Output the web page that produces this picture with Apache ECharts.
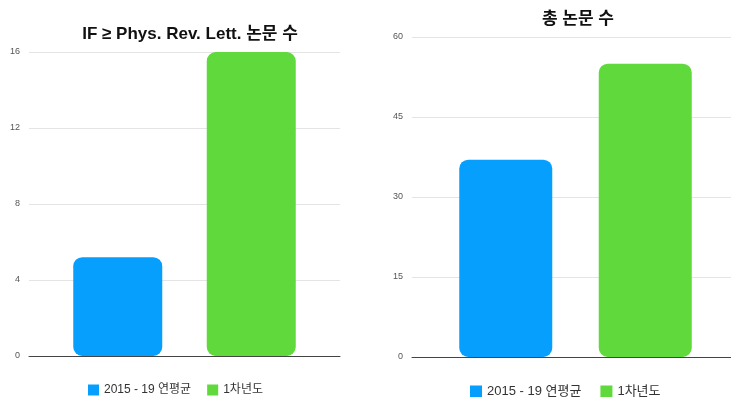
<!DOCTYPE html>
<html><head><meta charset="utf-8">
<script src="https://cdn.jsdelivr.net/npm/echarts@6/dist/echarts.min.js"></script>
<style>html,body{margin:0;padding:0;background:#fff}#c{width:731px;height:397px}</style>
</head><body><div id="c"></div>
<script>
const seriesNames = ['2015 - 19 연평균', '1차년도'];
const titles = ['IF ≥ Phys. Rev. Lett. 논문 수', '총 논문 수'];
const leftValues = [5.2, 16];
const rightValues = [37, 55];
const leftAxis = {min: 0, max: 16, interval: 4};
const rightAxis = {min: 0, max: 60, interval: 15};
const colors = ['#069ffd', '#5fd93b'];

const FONT = "'Liberation Sans', 'Noto Sans CJK KR', sans-serif";
const chart = echarts.init(document.getElementById('c'));
const yBase = {
  type: 'value', splitNumber: 4,
  axisLine: {show: false}, axisTick: {show: false},
  axisLabel: {color: '#555', fontSize: 9, margin: 9, fontFamily: FONT},
  splitLine: {lineStyle: {color: '#e4e4e4', width: 1}}
};
const xBase = {
  type: 'category', data: [''],
  axisLine: {lineStyle: {color: '#444', width: 1}},
  axisTick: {show: false}, axisLabel: {show: false}
};
function bar(name, val, idx, color, w) {
  return {
    type: 'bar', name: name, data: [val], xAxisIndex: idx, yAxisIndex: idx,
    barWidth: w, barGap: '50%',
    itemStyle: {color: color, borderRadius: 9}
  };
}
chart.setOption({
  animation: false,
  color: colors,
  title: [
    {text: titles[0], left: 185, top: 21, textAlign: 'center',
     textStyle: {fontSize: 17, fontWeight: 'bold', color: '#111', fontFamily: FONT}},
    {text: titles[1], left: 573, top: 6, textAlign: 'center',
     textStyle: {fontSize: 17, fontWeight: 'bold', color: '#111', fontFamily: FONT}}
  ],
  legend: [
    {data: seriesNames, left: 88, top: 384, padding: 0, itemWidth: 11, itemHeight: 11, itemGap: 16,
     icon: 'rect', textStyle: {fontSize: 12, color: '#333', fontFamily: FONT}, selectedMode: false},
    {data: seriesNames, left: 470, top: 385, padding: 0, itemWidth: 12, itemHeight: 12, itemGap: 19,
     icon: 'rect', textStyle: {fontSize: 13, color: '#333', fontFamily: FONT}, selectedMode: false}
  ],
  grid: [
    {left: 29, width: 311, top: 52, bottom: 41, outerBoundsMode: 'none'},
    {left: 412, width: 327, top: 37, bottom: 40, outerBoundsMode: 'none'}
  ],
  xAxis: [Object.assign({gridIndex: 0}, xBase), Object.assign({gridIndex: 1}, xBase)],
  yAxis: [
    Object.assign({gridIndex: 0}, yBase, leftAxis),
    Object.assign({gridIndex: 1}, yBase, rightAxis)
  ],
  series: [
    bar(seriesNames[0], leftValues[0], 0, colors[0], 89),
    bar(seriesNames[1], leftValues[1], 0, colors[1], 89),
    bar(seriesNames[0], rightValues[0], 1, colors[0], 93),
    bar(seriesNames[1], rightValues[1], 1, colors[1], 93)
  ]
});
</script></body></html>
